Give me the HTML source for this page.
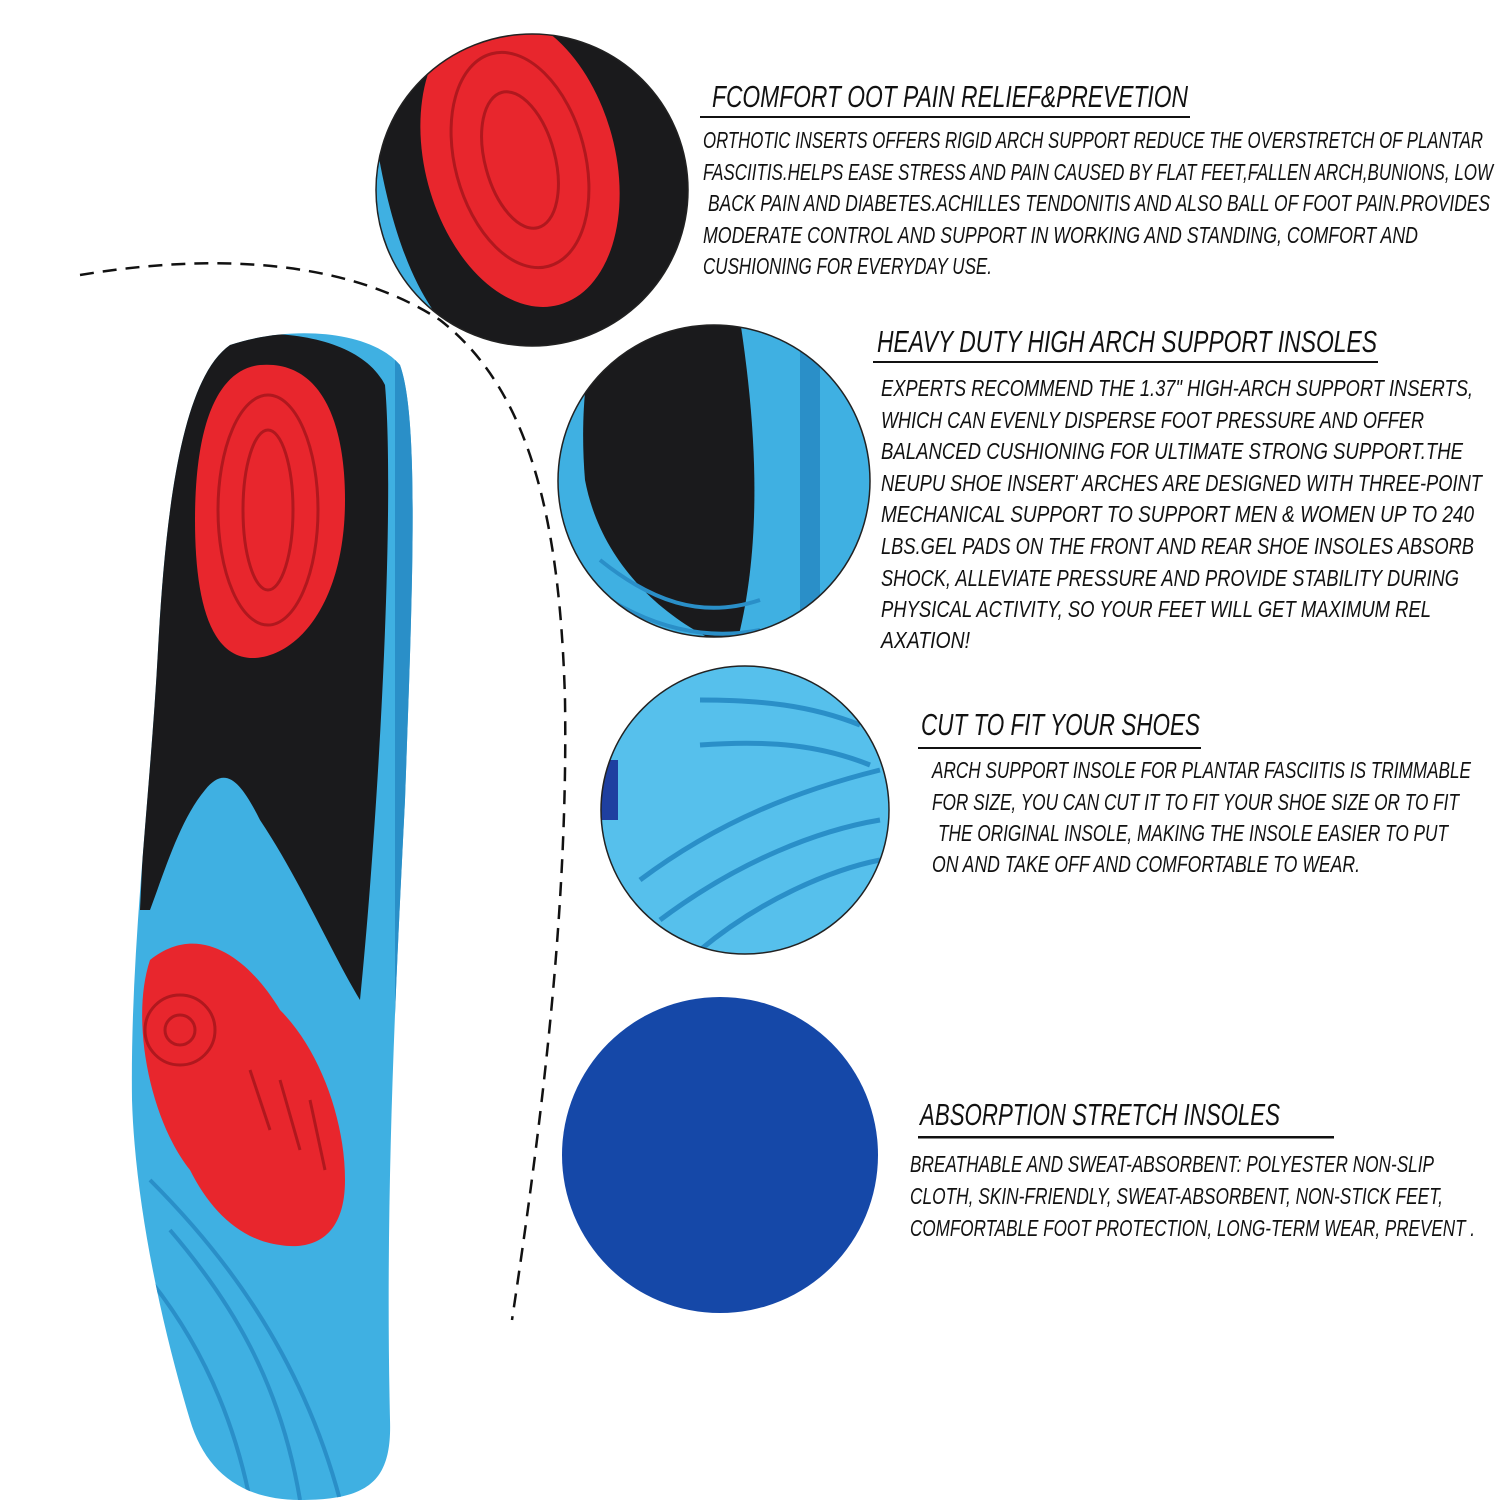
<!DOCTYPE html>
<html><head><meta charset="utf-8"><style>
html,body{margin:0;padding:0;background:#fff;}
svg{display:block;}
text{font-family:"Liberation Sans Narrow","Liberation Sans",sans-serif;font-style:italic;fill:#111;}
.h{font-size:31px;}
.b{font-size:23px;}
</style></head><body>
<svg width="1500" height="1500" viewBox="0 0 1500 1500" xmlns="http://www.w3.org/2000/svg">
<defs>
<clipPath id="c1"><circle cx="532" cy="190" r="156"/></clipPath>
<clipPath id="c2"><circle cx="714" cy="481" r="156"/></clipPath>
<clipPath id="c3"><circle cx="745" cy="810" r="144"/></clipPath>
<clipPath id="ins"><path d="M230,345 C290,325 370,330 400,365 C420,420 412,600 405,800 C395,1000 385,1200 390,1420 C392,1480 370,1500 300,1500 C240,1500 205,1470 190,1420 C160,1320 135,1200 132,1100 C130,950 150,800 158,650 C165,520 180,380 230,345 Z"/></clipPath>
</defs>
<path d="M80,275 C200,255 340,255 440,320 C530,390 560,520 565,700 C568,900 545,1100 512,1320" fill="none" stroke="#111" stroke-width="2.5" stroke-dasharray="14,9"/>
<g clip-path="url(#ins)">
<rect x="100" y="300" width="350" height="1250" fill="#3fb0e2"/>
<path d="M200,340 C270,325 360,335 385,385 C395,500 380,800 360,1000 C330,950 300,880 260,820 C240,780 225,765 205,790 C180,820 165,870 150,910 L140,910 C150,700 160,450 200,340 Z" fill="#1a1a1c"/>
<rect x="395" y="330" width="30" height="1200" fill="#2a8fc8"/>
<path d="M260,365 C320,360 345,420 345,500 C345,600 300,655 255,658 C210,660 195,600 195,520 C195,430 215,370 260,365 Z" fill="#e8262d"/>
<ellipse cx="268" cy="510" rx="50" ry="115" fill="none" stroke="#b0181e" stroke-width="3"/>
<ellipse cx="268" cy="510" rx="25" ry="80" fill="none" stroke="#b0181e" stroke-width="3"/>
<path d="M150,960 C200,920 250,960 280,1010 C320,1050 345,1120 345,1180 C345,1240 310,1250 280,1245 C240,1240 210,1210 190,1170 C150,1120 130,1020 150,960 Z" fill="#e8262d"/>
<circle cx="180" cy="1030" r="35" fill="none" stroke="#b0181e" stroke-width="3"/>
<circle cx="180" cy="1030" r="15" fill="none" stroke="#b0181e" stroke-width="3"/>
<path d="M250,1070 L270,1130 M280,1080 L300,1150 M310,1100 L325,1170" stroke="#b0181e" stroke-width="3"/>
<path d="M150,1180 C220,1250 300,1350 340,1500 M170,1230 C230,1300 280,1380 300,1500 M150,1280 C190,1330 230,1400 250,1500" fill="none" stroke="#2a8fc8" stroke-width="4"/>
</g>
<g clip-path="url(#c1)">
<rect x="370" y="30" width="320" height="320" fill="#1a1a1c"/>
<path d="M376,140 C395,260 430,320 470,350 L370,350 Z" fill="#3fb0e2"/>
<ellipse cx="520" cy="160" rx="95" ry="150" transform="rotate(-15 520 160)" fill="#e8262d"/>
<ellipse cx="520" cy="160" rx="65" ry="110" transform="rotate(-15 520 160)" fill="none" stroke="#b0181e" stroke-width="3"/>
<ellipse cx="520" cy="160" rx="35" ry="70" transform="rotate(-15 520 160)" fill="none" stroke="#b0181e" stroke-width="3"/>
</g>
<circle cx="532" cy="190" r="156" fill="none" stroke="#222" stroke-width="1.5"/>
<g clip-path="url(#c2)">
<rect x="555" y="320" width="320" height="320" fill="#3fb0e2"/>
<path d="M600,320 L740,320 C760,450 760,560 735,650 C660,620 600,560 585,480 C580,420 585,360 600,320 Z" fill="#1a1a1c"/>
<rect x="800" y="320" width="20" height="330" fill="#2a8fc8"/>
<path d="M600,560 C650,600 700,620 760,600 M610,600 C660,630 710,640 760,630" stroke="#2a8fc8" stroke-width="4" fill="none"/>
</g>
<circle cx="714" cy="481" r="156" fill="none" stroke="#222" stroke-width="1.5"/>
<g clip-path="url(#c3)">
<rect x="600" y="665" width="290" height="290" fill="#56c0ec"/>
<path d="M700,700 C760,700 810,705 860,725 M700,745 C770,740 820,745 870,765 M640,880 C720,820 800,790 880,770 M660,920 C740,860 820,830 880,820 M700,950 C760,900 830,870 880,860" stroke="#2a8fc8" stroke-width="5" fill="none"/>
<rect x="600" y="760" width="18" height="60" fill="#1e3fa0"/>
</g>
<circle cx="745" cy="810" r="144" fill="none" stroke="#222" stroke-width="1.5"/>
<circle cx="720" cy="1155" r="158" fill="#1548a8"/>

<text class="h" x="712" y="107" textLength="476" lengthAdjust="spacingAndGlyphs">FCOMFORT OOT PAIN RELIEF&amp;PREVETION</text>
<rect x="700" y="116" width="490" height="2" fill="#111"/>
<text class="b" x="703" y="148" textLength="780" lengthAdjust="spacingAndGlyphs">ORTHOTIC INSERTS OFFERS RIGID ARCH SUPPORT REDUCE THE OVERSTRETCH OF PLANTAR</text>
<text class="b" x="703" y="180" textLength="790" lengthAdjust="spacingAndGlyphs">FASCIITIS.HELPS EASE STRESS AND PAIN CAUSED BY FLAT FEET,FALLEN ARCH,BUNIONS, LOW</text>
<text class="b" x="708" y="211" textLength="782" lengthAdjust="spacingAndGlyphs">BACK PAIN AND DIABETES.ACHILLES TENDONITIS AND ALSO BALL OF FOOT PAIN.PROVIDES</text>
<text class="b" x="703" y="243" textLength="715" lengthAdjust="spacingAndGlyphs">MODERATE CONTROL AND SUPPORT IN WORKING AND STANDING, COMFORT AND</text>
<text class="b" x="703" y="274" textLength="289" lengthAdjust="spacingAndGlyphs">CUSHIONING FOR EVERYDAY USE.</text>

<text class="h" x="877" y="352" textLength="500" lengthAdjust="spacingAndGlyphs">HEAVY DUTY HIGH ARCH SUPPORT INSOLES</text>
<rect x="873" y="361" width="505" height="2" fill="#111"/>
<text class="b" x="881" y="396" textLength="592" lengthAdjust="spacingAndGlyphs">EXPERTS RECOMMEND THE 1.37" HIGH-ARCH SUPPORT INSERTS,</text>
<text class="b" x="881" y="428" textLength="543" lengthAdjust="spacingAndGlyphs">WHICH CAN EVENLY DISPERSE FOOT PRESSURE AND OFFER</text>
<text class="b" x="881" y="459" textLength="582" lengthAdjust="spacingAndGlyphs">BALANCED CUSHIONING FOR ULTIMATE STRONG SUPPORT.THE</text>
<text class="b" x="881" y="491" textLength="601" lengthAdjust="spacingAndGlyphs">NEUPU SHOE INSERT' ARCHES ARE DESIGNED WITH THREE-POINT</text>
<text class="b" x="881" y="522" textLength="593" lengthAdjust="spacingAndGlyphs">MECHANICAL SUPPORT TO SUPPORT MEN &amp; WOMEN UP TO 240</text>
<text class="b" x="881" y="554" textLength="593" lengthAdjust="spacingAndGlyphs">LBS.GEL PADS ON THE FRONT AND REAR SHOE INSOLES ABSORB</text>
<text class="b" x="881" y="586" textLength="578" lengthAdjust="spacingAndGlyphs">SHOCK, ALLEVIATE PRESSURE AND PROVIDE STABILITY DURING</text>
<text class="b" x="881" y="617" textLength="550" lengthAdjust="spacingAndGlyphs">PHYSICAL ACTIVITY, SO YOUR FEET WILL GET MAXIMUM REL</text>
<text class="b" x="881" y="648" textLength="89" lengthAdjust="spacingAndGlyphs">AXATION!</text>

<text class="h" x="921" y="735" textLength="279" lengthAdjust="spacingAndGlyphs">CUT TO FIT YOUR SHOES</text>
<rect x="918" y="747" width="283" height="2" fill="#111"/>
<text class="b" x="932" y="778" textLength="539" lengthAdjust="spacingAndGlyphs">ARCH SUPPORT INSOLE FOR PLANTAR FASCIITIS IS TRIMMABLE</text>
<text class="b" x="932" y="810" textLength="527" lengthAdjust="spacingAndGlyphs">FOR SIZE, YOU CAN CUT IT TO FIT YOUR SHOE SIZE OR TO FIT</text>
<text class="b" x="938" y="841" textLength="510" lengthAdjust="spacingAndGlyphs">THE ORIGINAL INSOLE, MAKING THE INSOLE EASIER TO PUT</text>
<text class="b" x="932" y="872" textLength="428" lengthAdjust="spacingAndGlyphs">ON AND TAKE OFF AND COMFORTABLE TO WEAR.</text>

<text class="h" x="920" y="1125" textLength="360" lengthAdjust="spacingAndGlyphs">ABSORPTION STRETCH INSOLES</text>
<rect x="918" y="1136" width="416" height="2.5" fill="#111"/>
<text class="b" x="910" y="1172" textLength="524" lengthAdjust="spacingAndGlyphs">BREATHABLE AND SWEAT-ABSORBENT: POLYESTER NON-SLIP</text>
<text class="b" x="910" y="1204" textLength="533" lengthAdjust="spacingAndGlyphs">CLOTH, SKIN-FRIENDLY, SWEAT-ABSORBENT, NON-STICK FEET,</text>
<text class="b" x="910" y="1236" textLength="565" lengthAdjust="spacingAndGlyphs">COMFORTABLE FOOT PROTECTION, LONG-TERM WEAR, PREVENT .</text>
</svg>
</body></html>
